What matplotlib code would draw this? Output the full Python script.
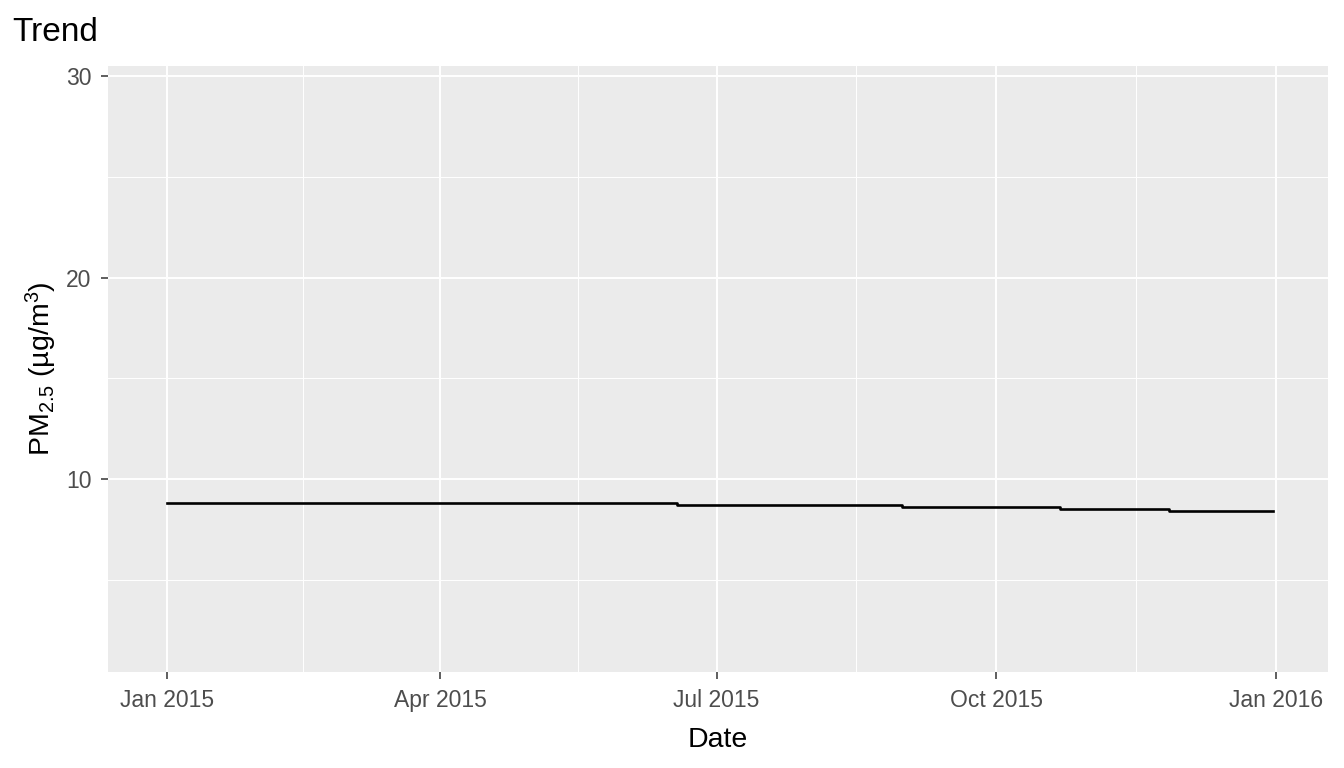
import matplotlib
matplotlib.use("Agg")
import matplotlib.pyplot as plt
import matplotlib.dates as mdates
import numpy as np
import pandas as pd

plt.rcParams['font.family'] = ['Liberation Sans', 'DejaVu Sans']
plt.rcParams['mathtext.fontset'] = 'custom'
plt.rcParams['mathtext.rm'] = 'Liberation Sans'
plt.rcParams['mathtext.default'] = 'regular'

# step trend (value holds until next date)
step_dates = ['2015-01-01', '2015-06-18', '2015-08-31', '2015-10-22', '2015-11-27', '2015-12-31']
step_values = [8.81, 8.72, 8.62, 8.53, 8.43, 8.43]
tick_dates = ['2015-01-01', '2015-04-01', '2015-07-01', '2015-10-01', '2016-01-01']
tick_labels = ['Jan 2015', 'Apr 2015', 'Jul 2015', 'Oct 2015', 'Jan 2016']
y_ticks = [10, 20, 30]

x = mdates.date2num(pd.to_datetime(step_dates))
majors = mdates.date2num(pd.to_datetime(tick_dates))
minors = (majors[:-1] + majors[1:]) / 2

fig = plt.figure(figsize=(13.44, 7.68), dpi=100)
ax = fig.add_axes([0.0804, 0.125, 0.9076, 0.789])
ax.set_facecolor('#EBEBEB')
for s in ax.spines.values():
    s.set_visible(False)

ax.step(x, step_values, where='post', color='black', lw=1.9, zorder=3)

span = x[-1] - x[0]
ax.set_xlim(x[0] - 0.053 * span, x[-1] + 0.05 * span)
ax.set_ylim(0.42, 30.5)

ax.set_xticks(majors)
ax.set_xticklabels(tick_labels)
ax.set_xticks(minors, minor=True)
ax.set_yticks(y_ticks)
ax.set_yticks([5, 15, 25], minor=True)

ax.grid(which='major', color='white', lw=1.4)
ax.grid(which='minor', color='white', lw=0.7)
ax.set_axisbelow(True)

ax.tick_params(which='major', length=5, width=1.1, color='#333333',
               labelcolor='#4D4D4D', labelsize=16.5, pad=7)
ax.tick_params(which='minor', length=0)

ax.set_xlabel('Date', fontsize=20.5, labelpad=11)
ax.set_ylabel('PM$_{2.5}$ (µg/m$^3$)', fontsize=20.5, labelpad=5)
fig.text(0.009, 0.958, 'Trend', fontsize=24, va='center', ha='left')

fig.savefig('out.png', dpi=100)
